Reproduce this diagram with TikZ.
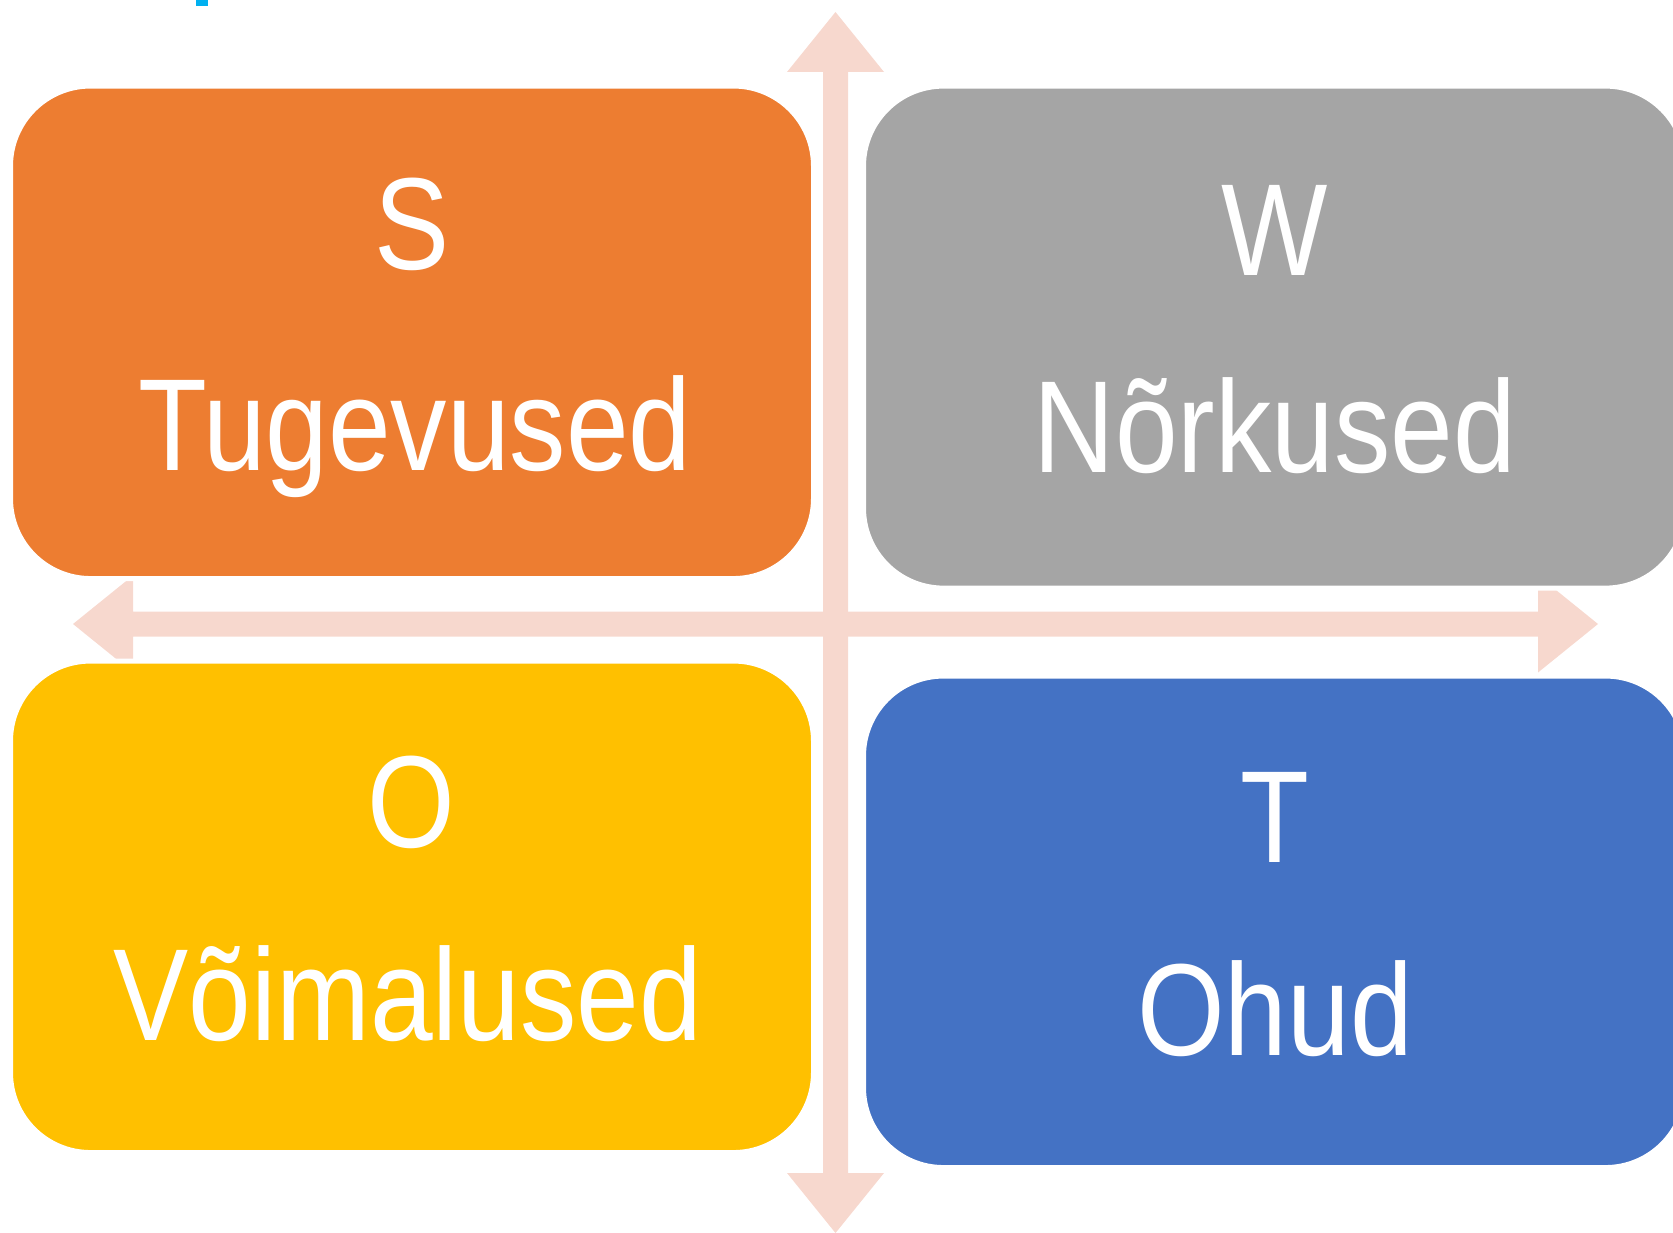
\documentclass[tikz,border=0pt]{standalone}
\usepackage{fontspec}
\setmainfont{Liberation Sans}[FakeStretch=0.86]
\usetikzlibrary{positioning}

\definecolor{swotorange}{HTML}{ED7D31}
\definecolor{swotgray}{HTML}{A5A5A5}
\definecolor{swotyellow}{HTML}{FFC000}
\definecolor{swotblue}{HTML}{4472C4}
\definecolor{axispink}{HTML}{F7D8CE}
\definecolor{markblue}{HTML}{00B0F0}

\begin{document}
\begin{tikzpicture}[x=1pt,y=-1pt,
	swotbox/.style={rectangle, rounded corners=80pt, draw=white, line width=5pt, inner sep=0pt},
	swottext/.style={text=white, font=\fontsize{131}{150}\selectfont, anchor=base, inner sep=0pt}]
	
	% ---- (A) parameters you can easily change ----
	\def\W{1673}
	\def\H{1233}
	
	% axis cross: centre, shaft half width, head half width, head length
	\def\cx{835.5}
	\def\cy{624}
	\def\sw{12.5}
	\def\hw{48.5}
	\def\hl{60}
	
	% ---- (B) canvas ----
	\useasboundingbox (0,0) rectangle (\W,\H);
	\clip (0,0) rectangle (\W,\H);
	
	% small blue mark at the top
	\fill[markblue] (196,0) rectangle (208,6);
	
	% ---- (C) axes (double arrows) ----
	% vertical one, tips at y=12 and y=1233
	\fill[axispink] (\cx,12) -- (\cx+\hw,12+\hl) -- (\cx+\sw,12+\hl)
	-- (\cx+\sw,1233-\hl) -- (\cx+\hw,1233-\hl) -- (\cx,1233)
	-- (\cx-\hw,1233-\hl) -- (\cx-\sw,1233-\hl)
	-- (\cx-\sw,12+\hl) -- (\cx-\hw,12+\hl) -- cycle;
	% horizontal one, tips at x=73 and x=1598
	\fill[axispink] (73,\cy) -- (73+\hl,\cy-\hw) -- (73+\hl,\cy-\sw)
	-- (1598-\hl,\cy-\sw) -- (1598-\hl,\cy-\hw) -- (1598,\cy)
	-- (1598-\hl,\cy+\hw) -- (1598-\hl,\cy+\sw)
	-- (73+\hl,\cy+\sw) -- (73+\hl,\cy+\hw) -- cycle;
	
	% ---- (D) the four boxes ----
	\node[swotbox, fill=swotorange, minimum width=803pt, minimum height=492.5pt] (strengths) at (412,332.3) {};
	\node[swotbox, fill=swotgray, minimum width=822pt, minimum height=502pt] (weaknesses) at (1274.5,337.1) {};
	\node[swotbox, fill=swotyellow, minimum width=803pt, minimum height=491.5pt] (opportunities) at (412,906.8) {};
	\node[swotbox, fill=swotblue, minimum width=822pt, minimum height=491.5pt] (threats) at (1274.5,921.8) {};
	
	% ---- (E) letters and words ----
	\node[swottext] (sLetter) at (412,270) {S};
	\node[swottext] (sWord) at (415,470.5) {Tugevused};
	
	\node[swottext] (wLetter) at (1275,276) {W};
	\node[swottext] (wWord) at (1275,472.7) {Nõrkused};
	
	\node[swottext] (oLetter) at (411,847) {O};
	\node[swottext] (oWord) at (408,1040) {Võimalused};
	
	\node[swottext] (tLetter) at (1275,862) {T};
	\node[swottext] (tWord) at (1275,1055) {Ohud};
	
\end{tikzpicture}
\end{document}
